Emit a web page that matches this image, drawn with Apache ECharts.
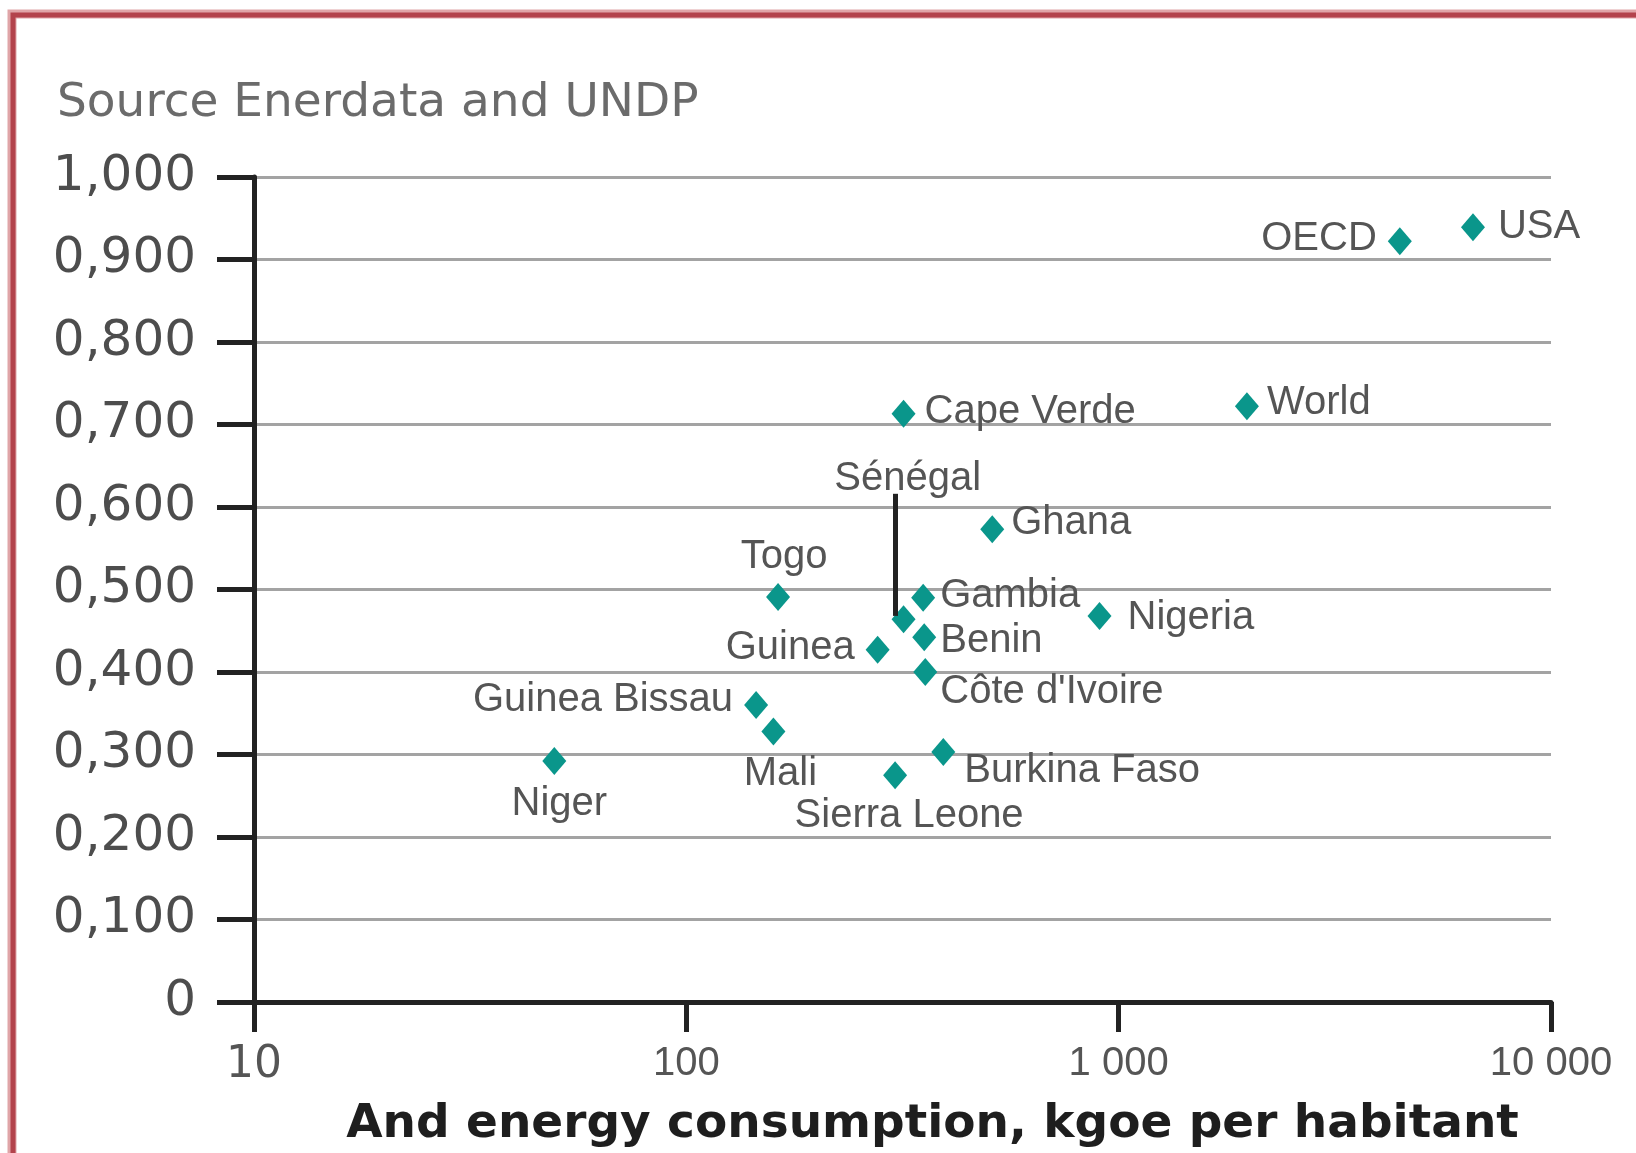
<!DOCTYPE html>
<html>
<head>
<meta charset="utf-8">
<title>HDI and energy consumption</title>
<script src="https://cdn.jsdelivr.net/npm/echarts@6/dist/echarts.min.js"></script>
<style>
  html, body { margin: 0; padding: 0; background: #fff; }
  #chart { width: 1636px; height: 1153px; }
</style>
</head>
<body>
<div id="chart"></div>
<script>
const countries = ["USA", "OECD", "World", "Cape Verde", "Sénégal", "Ghana", "Togo", "Gambia", "Nigeria",
  "Benin", "Guinea", "Côte d'Ivoire", "Guinea Bissau", "Mali", "Niger", "Burkina Faso", "Sierra Leone"];
// energy consumption, kgoe per habitant
const energy = [6600, 4470, 1980, 318, 318, 510, 163, 353, 903, 355, 277, 357, 145, 159, 49.5, 393, 304];
// human development index
const hdi = [0.939, 0.922, 0.722, 0.713, 0.464, 0.573, 0.491, 0.490, 0.468, 0.442, 0.427, 0.400, 0.360, 0.328, 0.292, 0.303, 0.275];

const xTicks = [10, 100, 1000, 10000];
const xTickLabels = ["10", "100", "1 000", "10 000"];
const yTickLabels = ["0", "0,100", "0,200", "0,300", "0,400", "0,500", "0,600", "0,700", "0,800", "0,900", "1,000"];

// Sénégal leader line: energy and top end of the line
const senegalLine = { x: 305, from: 0.468, to: 0.616 };

// where each label sits around its point
const labelPlace = {
  "USA": { position: "right", distance: 13, offset: [0, 0] },
  "OECD": { position: "left", distance: 11, offset: [0, -2] },
  "World": { position: "right", distance: 8, offset: [0, -3] },
  "Cape Verde": { position: "right", distance: 9, offset: [0, -2] },
  "Sénégal": null,
  "Ghana": { position: "right", distance: 7, offset: [0, -6] },
  "Togo": { position: "top", distance: 6, offset: [6, 0] },
  "Gambia": { position: "right", distance: 5, offset: [0, -2] },
  "Nigeria": { position: "right", distance: 16, offset: [0, 2] },
  "Benin": { position: "right", distance: 4, offset: [0, 4] },
  "Guinea": { position: "left", distance: 11, offset: [0, -2] },
  "Côte d'Ivoire": { position: "right", distance: 3, offset: [0, 20] },
  "Guinea Bissau": { position: "left", distance: 11, offset: [0, -5] },
  "Mali": { position: "bottom", distance: 9, offset: [7, 0] },
  "Niger": { position: "bottom", distance: 9, offset: [5, 0] },
  "Burkina Faso": { position: "right", distance: 9, offset: [0, 19] },
  "Sierra Leone": { position: "bottom", distance: 7, offset: [14, 0] }
};

const pointData = countries.map((name, i) => {
  const place = labelPlace[name];
  return {
    name: name,
    value: [energy[i], hdi[i]],
    label: place ? Object.assign({ show: true }, place) : { show: false }
  };
});

const chart = echarts.init(document.getElementById("chart"));

const option = {
  animation: false,
  backgroundColor: "#fff",
  title: {
    text: "Source Enerdata and UNDP",
    left: 52,
    top: 75,
    textStyle: {
      fontFamily: "DejaVu Sans",
      fontWeight: "normal",
      fontSize: 47,
      color: "#6b6b6b"
    }
  },
  graphic: [
    {
      type: "rect",
      shape: { x: 12, y: 14, width: 1800, height: 1400 },
      style: { fill: null, stroke: "#e0a5a8", lineWidth: 9 },
      silent: true
    },
    {
      type: "rect",
      shape: { x: 13, y: 15, width: 1800, height: 1400 },
      style: { fill: null, stroke: "#b3434c", lineWidth: 5 },
      silent: true
    }
  ],
  grid: {
    left: 254,
    right: 85,
    top: 177,
    bottom: 147
  },
  xAxis: {
    type: "log",
    logBase: 10,
    min: 10,
    max: 10000,
    name: "And energy consumption, kgoe per habitant",
    nameLocation: "middle",
    nameGap: 99,
    nameTextStyle: {
      fontFamily: "DejaVu Sans",
      fontWeight: "bold",
      fontSize: 47,
      color: "#1e1e1e",
      padding: [0, 0, 0, 60]
    },
    axisLine: { show: true, lineStyle: { color: "#222", width: 5 } },
    axisTick: { show: true, length: 30, lineStyle: { color: "#222", width: 5 } },
    splitLine: { show: false },
    axisLabel: {
      margin: 42,
      fontFamily: "Liberation Sans",
      fontSize: 40,
      color: "#555",
      formatter: function (v) {
        const idx = xTicks.indexOf(Math.round(v));
        if (idx === 0) {
          return "{w|" + xTickLabels[0] + "}";
        }
        return idx >= 0 ? xTickLabels[idx] : "";
      },
      rich: {
        w: { fontFamily: "DejaVu Sans", fontSize: 44, color: "#555" }
      }
    }
  },
  yAxis: {
    type: "value",
    min: 0,
    max: 1,
    interval: 0.1,
    axisLine: { show: true, lineStyle: { color: "#222", width: 5 } },
    axisTick: { show: true, length: 37, lineStyle: { color: "#222", width: 5 } },
    splitLine: { show: true, lineStyle: { color: "#a3a3a3", width: 3 } },
    axisLabel: {
      margin: 58,
      fontFamily: "DejaVu Sans",
      fontSize: 50,
      color: "#4d4d4d",
      formatter: function (v) {
        return yTickLabels[Math.round(v * 10)];
      }
    }
  },
  series: [
    {
      type: "scatter",
      symbol: "diamond",
      symbolSize: [24, 28],
      itemStyle: { color: "#0a968b", opacity: 1 },
      label: {
        fontFamily: "Liberation Sans",
        fontSize: 40,
        color: "#555",
        formatter: "{b}"
      },
      data: pointData,
      markLine: {
        silent: true,
        symbol: ["none", "none"],
        lineStyle: { color: "#222", width: 5, type: "solid", opacity: 1 },
        label: {
          show: true,
          position: "end",
          distance: -5,
          formatter: "Sénégal",
          fontFamily: "Liberation Sans",
          fontSize: 40,
          color: "#555",
          padding: [0, 0, 0, 24]
        },
        data: [
          [
            { coord: [senegalLine.x, senegalLine.from] },
            { coord: [senegalLine.x, senegalLine.to] }
          ]
        ]
      }
    }
  ]
};

chart.setOption(option);
</script>
</body>
</html>
